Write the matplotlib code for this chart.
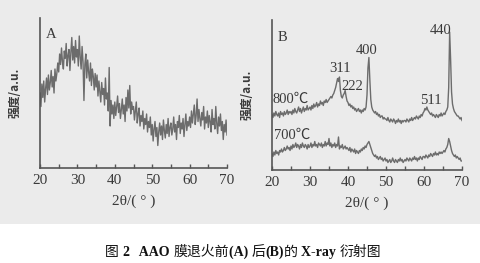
import numpy as np
import matplotlib
matplotlib.use("Agg")
import matplotlib.pyplot as plt
from matplotlib.patches import Rectangle

plt.rcParams['font.family'] = ['Liberation Serif', 'Noto Sans CJK SC', 'DejaVu Sans']

# 2theta grid, 0.25 deg step
two_theta = np.arange(20, 70.001, 0.25)

# A: before annealing (amorphous)
int_a = [
    50, 41, 56, 47, 58, 44, 53, 60, 49, 62, 52, 57, 65, 54, 61, 50, 66, 58, 63, 70,
    64, 76, 69, 80, 71, 66, 78, 73, 83, 68, 75, 79, 65, 77, 87, 72, 81, 70, 85, 74,
    79, 68, 88, 74, 66, 81, 71, 45, 69, 76, 60, 72, 64, 58, 70, 55, 66, 61, 52, 63,
    54, 62, 48, 58, 51, 44, 57, 49, 53, 42, 60, 46, 50, 38, 67, 28, 45, 36, 42, 33,
    44, 35, 41, 48, 37, 43, 33, 39, 46, 36, 42, 31, 47, 38, 52, 40, 55, 36, 44, 39,
    41, 32, 38, 44, 30, 36, 40, 28, 35, 31, 38, 26, 33, 29, 36, 24, 31, 27, 34, 22,
    29, 18, 26, 31, 21, 27, 15, 24, 30, 22, 28, 19, 32, 25, 20, 29, 23, 33, 21, 27,
    30, 22, 26, 34, 24, 29, 19, 31, 27, 35, 23, 30, 26, 33, 21, 29, 36, 25, 31, 28,
    34, 27, 38, 30, 36, 42, 29, 35, 46, 31, 39, 33, 28, 37, 32, 41, 26, 34, 30, 38,
    27, 35, 31, 24, 39, 29, 33, 26, 41, 30, 23, 34, 28, 36, 25, 31, 19, 29, 24, 32,
    22,
]

# B: 800 C
int_800 = [
    37, 35, 38, 36, 39, 37, 36, 38, 35, 39, 37, 38, 36, 39, 37, 38, 40, 37, 39, 38,
    39, 37, 40, 38, 41, 39, 38, 40, 42, 39, 41, 38, 40, 42, 39, 41, 40, 43, 40, 41,
    42, 40, 43, 41, 44, 42, 43, 45, 42, 44, 43, 46, 44, 45, 43, 46, 45, 47, 45, 46,
    47, 48, 49, 48, 50, 51, 53, 55, 58, 61, 59, 62, 53, 49, 48, 50, 51, 53, 49, 46,
    45, 43, 44, 42, 43, 41, 42, 40, 41, 39, 40, 41, 39, 40, 38, 40, 39, 41, 40, 42,
    50, 68, 75, 60, 47, 42, 40, 39, 38, 39, 37, 38, 36, 37, 35, 36, 36, 34, 35, 34,
    34, 33, 35, 33, 32, 34, 33, 32, 34, 33, 31, 33, 32, 34, 32, 33, 31, 33, 32, 33,
    33, 32, 34, 33, 32, 34, 33, 35, 33, 34, 35, 34, 36, 35, 34, 36, 35, 37, 36, 38,
    39, 41, 40, 42, 40, 39, 38, 37, 38, 36, 37, 36, 35, 37, 36, 35, 37, 36, 38, 36,
    37, 38, 37, 39, 40, 42, 55, 92, 74, 52, 44, 41, 39, 38, 37, 36, 36, 35, 34, 35,
    33,
]

# B: 700 C
int_700 = [
    11, 9, 12, 10, 13, 11, 12, 10, 13, 12, 14, 12, 13, 15, 13, 14, 16, 14, 15, 13,
    16, 14, 17, 15, 16, 18, 15, 17, 16, 14, 17, 15, 18, 16, 15, 17, 16, 14, 17, 15,
    16, 18, 15, 17, 16, 19, 16, 17, 15, 18, 17, 16, 18, 15, 17, 16, 19, 16, 18, 17,
    21, 16, 18, 15, 17, 16, 18, 15, 17, 16, 22, 14, 16, 15, 17, 14, 15, 16, 14, 15,
    14, 13, 15, 12, 14, 13, 12, 14, 11, 13, 12, 11, 13, 12, 14, 13, 15, 14, 16, 15,
    17, 18, 19, 17, 15, 13, 11, 10, 9, 10, 8, 9, 7, 8, 9, 7, 8, 6, 7, 8,
    6, 7, 5, 6, 7, 5, 6, 8, 6, 5, 7, 6, 5, 7, 6, 8, 6, 7, 5, 6,
    7, 6, 8, 7, 6, 8, 7, 6, 8, 7, 9, 7, 8, 6, 8, 7, 9, 8, 7, 9,
    9, 8, 10, 9, 8, 10, 9, 11, 10, 9, 11, 10, 12, 10, 11, 10, 12, 11, 12, 11,
    12, 13, 12, 14, 15, 17, 21, 19, 16, 13, 11, 10, 9, 10, 8, 9, 8, 7, 8, 6,
    6,
]

peak_labels = ['311', '222', '400', '511', '440']
peak_pos = [(38.0, 68), (41.2, 56), (44.9, 80), (61.8, 46), (64.5, 93)]

x_ticks = [20, 30, 40, 50, 60, 70]
minor_ticks = [25, 35, 45, 55, 65]

line_c = '#6c6c6c'
axis_c = '#555555'
text_c = '#3a3a3a'

fig = plt.figure(figsize=(4.8, 2.63), dpi=100, facecolor='white')
# scanned grey background
fig.patches.append(Rectangle((0, 0.148), 1, 0.852, transform=fig.transFigure,
                             facecolor='#ebebeb', edgecolor='none', zorder=-5))

axA = fig.add_axes([40/480, 1-168/263, 187/480, 150/263])
axB = fig.add_axes([272/480, 1-170/263, 190/480, 150/263])

axA.plot(two_theta, int_a, color=line_c, lw=1.0)
axB.plot(two_theta, int_800, color=line_c, lw=1.0)
axB.plot(two_theta, int_700, color=line_c, lw=1.0)

for ax in (axA, axB):
    ax.set_facecolor('none')
    ax.set_xlim(20, 70)
    ax.set_ylim(0, 100)
    for s in ['top', 'right']:
        ax.spines[s].set_visible(False)
    for s in ['left', 'bottom']:
        ax.spines[s].set_color(axis_c)
        ax.spines[s].set_linewidth(1.2)
    ax.set_yticks([])
    ax.set_xticks(x_ticks)
    ax.set_xticks(minor_ticks, minor=True)
    ax.tick_params(axis='x', which='both', direction='in', length=3, width=1,
                   color=axis_c, labelsize=11, labelcolor=text_c, pad=4)
    ax.set_xlabel('2θ/( ° )', fontsize=11, color=text_c, labelpad=6)
    ax.set_ylabel('强度/a.u.', fontsize=8.5, color=text_c, fontweight='bold',
                  family=['Noto Sans CJK SC', 'DejaVu Sans'], labelpad=13)

axA.text(21.5, 87, 'A', fontsize=10.5, color=text_c)
axB.text(21.5, 86, 'B', fontsize=10.5, color=text_c)

for lab, (px, py) in zip(peak_labels, peak_pos):
    axB.text(px, py, lab, fontsize=10.5, color=text_c, ha='center', va='center')
axB.text(20.2, 47, '800℃', fontsize=10.5, color=text_c, va='center',
         family=['Liberation Serif', 'Noto Sans CJK SC'])
axB.text(20.4, 23, '700℃', fontsize=10.5, color=text_c, va='center',
         family=['Liberation Serif', 'Noto Sans CJK SC'])

# caption, pieces chained so latin parts can be bold
bg = fig.add_axes([0, 0, 1, 1])
bg.axis('off')
pieces = [('图 ', 'normal'), ('2', 'bold'), ('   AAO ', 'bold'), ('膜退火前', 'normal'),
          ('(A) ', 'bold'), ('后', 'normal'), ('(B)', 'bold'), ('的 ', 'normal'),
          ('X-ray ', 'bold'), ('衍射图', 'normal')]
prev = None
for txt, w in pieces:
    if prev is None:
        prev = bg.text(105/480, 1-256/263, txt, fontsize=10, fontweight=w,
                       color='#111111', va='baseline', ha='left',
                       family=['Liberation Serif', 'Noto Sans CJK SC'])
    else:
        prev = bg.annotate(txt, xy=(1, 0), xycoords=prev, fontsize=10, fontweight=w,
                           color='#111111', va='bottom', ha='left',
                           family=['Liberation Serif', 'Noto Sans CJK SC'])

fig.savefig('out.png', dpi=100, facecolor=fig.get_facecolor())
